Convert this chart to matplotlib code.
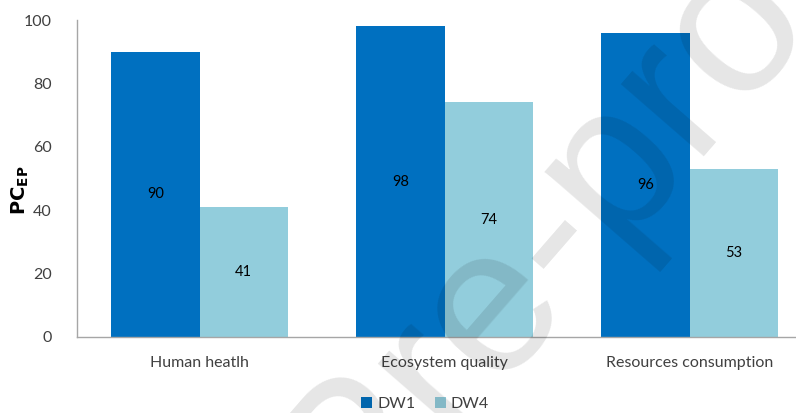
import numpy as np
import matplotlib
matplotlib.use("Agg")
import matplotlib.pyplot as plt

categories = ["Human heatlh", "Ecosystem quality", "Resources consumption"]
dw1 = [90, 98, 96]
dw4 = [41, 74, 53]
yticks = [0, 20, 40, 60, 80, 100]

C_DW1 = "#0070C0"
C_DW4 = "#92CDDC"
TXT = "#404040"

plt.rcParams["font.family"] = ["Lato", "DejaVu Sans"]

fig = plt.figure(figsize=(7.96, 4.13), dpi=100)
W, H = 796.0, 413.0
ax = fig.add_axes([77 / W, (H - 337) / H, 735 / W, 317 / H])

x = np.arange(len(categories))
bw = 0.36
b1 = ax.bar(x - bw / 2, dw1, bw, color=C_DW1, label="DW1", zorder=2)
b2 = ax.bar(x + bw / 2, dw4, bw, color=C_DW4, label="DW4", zorder=2)

# value labels in the middle of each bar
for bars, vals in ((b1, dw1), (b2, dw4)):
    for r, v in zip(bars, vals):
        ax.text(r.get_x() + r.get_width() / 2, v / 2, str(v),
                ha="center", va="center", fontsize=10.5, color="black",
                zorder=3)

ax.set_xlim(-0.5, 2.5)
ax.set_ylim(0, 100)
ax.set_yticks(yticks)
ax.set_xticks(x)
ax.set_xticklabels(categories)
ax.tick_params(axis="both", length=0, labelsize=11.5, colors=TXT)
ax.tick_params(axis="y", pad=18)
ax.tick_params(axis="x", pad=14)
for s in ("top", "right"):
    ax.spines[s].set_visible(False)
for s in ("left", "bottom"):
    ax.spines[s].set_color("#a6a6a6")
    ax.spines[s].set_linewidth(1.0)

fig.text(20 / W, 1 - 190 / H, r"$\mathbf{PC_{EP}}$", rotation=90,
         ha="center", va="center", fontsize=14, color="black")

fig.legend(handles=[b1, b2], labels=["DW1", "DW4"], loc="center",
           bbox_to_anchor=(425 / W, 1 - 404 / H), ncol=2, frameon=False,
           fontsize=11.5, handlelength=0.7, handleheight=0.7,
           handletextpad=0.3, columnspacing=1.2, labelcolor=TXT)

# watermark
fig.text(362 / W, 1 - 468 / H, "Journal Pre-proof", rotation=49,
         rotation_mode="anchor", ha="center", va="center",
         fontsize=150, family="Liberation Sans", color="black", alpha=0.1,
         zorder=10)

fig.savefig("out.png", dpi=100)
